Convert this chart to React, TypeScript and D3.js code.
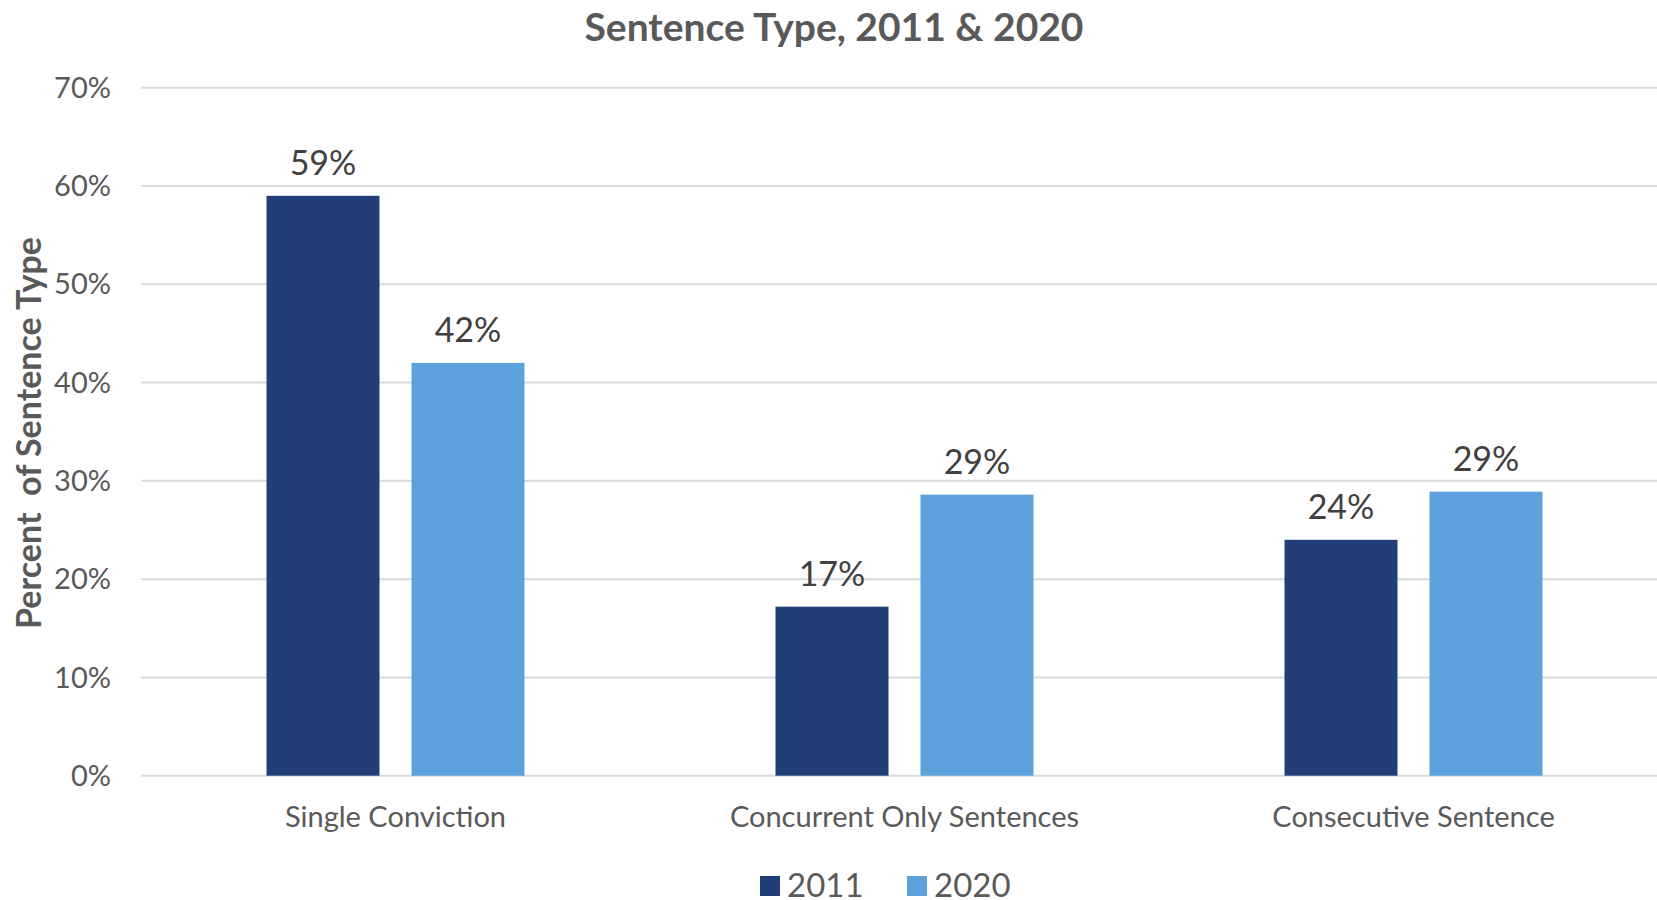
import React from "react";
import * as d3 from "d3";

const categories = ["Single Conviction", "Concurrent Only Sentences", "Consecutive Sentence"];
const seriesNames = ["2011", "2020"];
const values2011 = [59, 17.2, 24];
const values2020 = [42, 28.6, 28.9];
const yTicks = [0, 10, 20, 30, 40, 50, 60, 70];
const colors = ["#213E79", "#5BA1DB"];

const W = 1657;
const H = 900;
const FONT = "Lato, 'Open Sans', sans-serif";

export default function App() {
  const x0 = d3.scaleBand().domain(categories).range([141, 1668]).paddingInner(0).paddingOuter(0);
  const y = d3.scaleLinear().domain([0, 70]).range([775.7, 87.7]);
  const barW = 113;
  const gap = 32;
  const series = [values2011, values2020];

  return (
    <svg width={W} height={H} style={{ position: "absolute", left: 0, top: 0, background: "#fff" }}>
      <text x={834} y={27} dy="0.35em" textAnchor="middle" fontFamily={FONT} fontWeight="bold" fontSize={39} fill="#595959">
        Sentence Type, 2011 &amp; 2020
      </text>
      {yTicks.map((t) => (
        <g key={t}>
          <line x1={141} x2={W} y1={y(t)} y2={y(t)} stroke="#D9D9D9" strokeWidth={2} />
          <text x={111} y={y(t)} dy="0.35em" textAnchor="end" fontFamily={FONT} fontSize={29} fill="#595959">
            {t}%
          </text>
        </g>
      ))}
      <text
        transform={`translate(41, 433) rotate(-90)`}
        textAnchor="middle"
        fontFamily={FONT}
        fontWeight="bold"
        fontSize={34}
        fill="#595959"
        style={{ whiteSpace: "pre" }}
      >
        {"Percent  of Sentence Type"}
      </text>
      {categories.map((c, i) => {
        const cx = (x0(c) as number) + x0.bandwidth() / 2;
        return (
          <g key={c}>
            {series.map((vals, s) => {
              const bx = s === 0 ? cx - gap / 2 - barW : cx + gap / 2;
              return (
                <g key={s}>
                  <rect x={bx} y={y(vals[i])} width={barW} height={y(0) - y(vals[i])} fill={colors[s]} />
                  <text
                    x={bx + barW / 2}
                    y={y(vals[i]) - 21}
                    textAnchor="middle"
                    fontFamily={FONT}
                    fontSize={34}
                    fill="#404040"
                  >
                    {Math.round(vals[i])}%
                  </text>
                </g>
              );
            })}
            <text x={cx} y={817} dy="0.35em" textAnchor="middle" fontFamily={FONT} fontSize={29} fill="#595959">
              {c}
            </text>
          </g>
        );
      })}
      {seriesNames.map((n, s) => {
        const lx = s === 0 ? 760 : 907;
        return (
          <g key={n}>
            <rect x={lx} y={876} width={20} height={20} fill={colors[s]} />
            <text x={lx + 27} y={885} dy="0.35em" fontFamily={FONT} fontSize={33} fill="#595959">
              {n}
            </text>
          </g>
        );
      })}
    </svg>
  );
}
